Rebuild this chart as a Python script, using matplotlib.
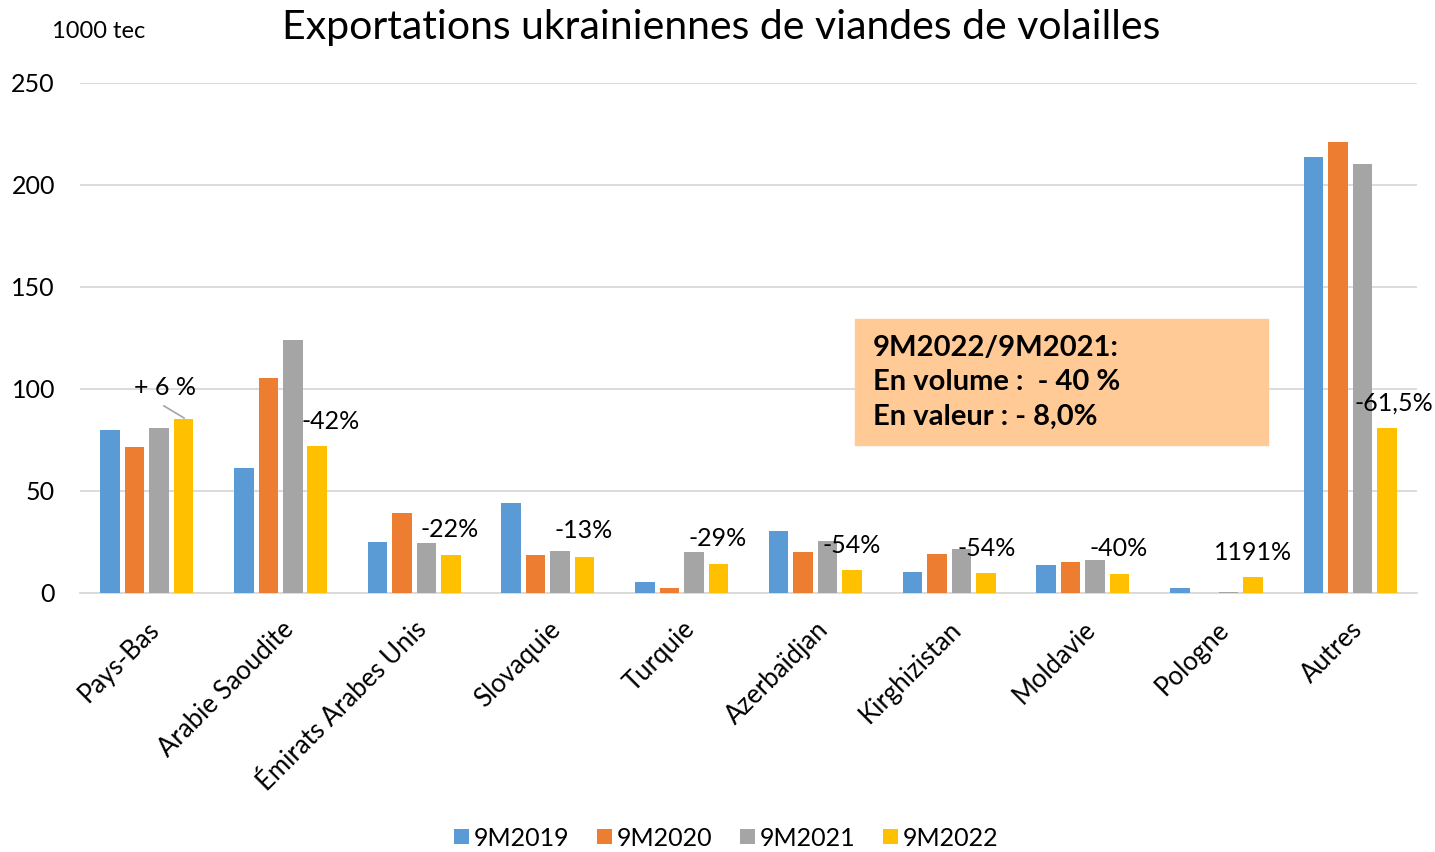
import numpy as np
import matplotlib.pyplot as plt

plt.rcParams['font.family'] = ['Lato', 'DejaVu Sans']

pays = ["Pays-Bas", "Arabie Saoudite", "Émirats Arabes Unis", "Slovaquie", "Turquie",
        "Azerbaïdjan", "Kirghizistan", "Moldavie", "Pologne", "Autres"]
series = ["9M2019", "9M2020", "9M2021", "9M2022"]
v2019 = [80.0, 61.3, 25.0, 44.0, 5.4, 30.4, 10.3, 13.7, 2.5, 213.7]
v2020 = [71.6, 105.4, 39.0, 18.6, 2.5, 20.0, 19.1, 15.2, 0.0, 221.0]
v2021 = [81.0, 124.0, 24.5, 20.6, 20.0, 25.5, 21.6, 16.2, 0.6, 210.3]
v2022 = [85.3, 72.0, 18.6, 17.6, 14.2, 11.3, 9.8, 9.3, 7.8, 81.0]
evol = ["+ 6 %", "-42%", "-22%", "-13%", "-29%", "-54%", "-54%", "-40%", "1191%", "-61,5%"]
couleurs = ["#5B9BD5", "#ED7D31", "#A5A5A5", "#FFC000"]

fig = plt.figure(figsize=(14.35, 8.52), dpi=100)
ax = fig.add_axes([80 / 1435, 1 - 593 / 852, 1337 / 1435, 510 / 852])

x = np.arange(len(pays))
pas = 0.183
larg = 0.146
for k, (vals, nom) in enumerate(zip([v2019, v2020, v2021, v2022], series)):
    ax.bar(x + (k - 1.5) * pas, vals, width=larg, color=couleurs[k], label=nom, zorder=3)

ax.set_xlim(-0.5, len(pays) - 0.5)
ax.set_ylim(0, 250)
ax.set_yticks([0, 50, 100, 150, 200, 250])
ax.grid(axis='y', color='#D9D9D9', linewidth=1.3, zorder=0)
for s in ['top', 'right', 'left']:
    ax.spines[s].set_visible(False)
ax.spines['bottom'].set_color('#D9D9D9')
ax.spines['bottom'].set_linewidth(1.3)
ax.tick_params(axis='y', length=0, pad=18, labelsize=18)
ax.tick_params(axis='x', length=0, pad=17)
ax.set_xticks(x)
ax.set_xticklabels(pays, rotation=45, ha='right', rotation_mode='anchor', fontsize=18.5)

# étiquettes d'évolution 9M2022/9M2021
pos_lab = [(0.136, 100.5), (1.377, 84.3), (2.267, 30.9), (3.27, 30.4), (4.27, 26.5),
           (5.27, 23.5), (6.28, 22.0), (7.27, 22.0), (8.27, 20.0), (9.33, 93.0)]
for (lx, ly), t in zip(pos_lab, evol):
    ax.text(lx, ly, t, ha='center', va='center', fontsize=18, zorder=5)
ax.plot([0.128, 0.278], [91.7, 85.8], color='#A5A5A5', linewidth=1.2, zorder=4)

# encadré
fig.patches.append(plt.Rectangle((855 / 1435, 1 - 445 / 852), 413 / 1435, 126 / 852,
                                 transform=fig.transFigure, color='#FFCA96', zorder=1))
boite = "9M2022/9M2021:\nEn volume :  - 40 %\nEn valeur : - 8,0%"
fig.text(873 / 1435, 1 - 382 / 852, boite, fontsize=21, fontweight='bold',
         ha='left', va='center', linespacing=1.4, zorder=6)

fig.text(721 / 1435, 1 - 27 / 852, "Exportations ukrainiennes de viandes de volailles",
         ha='center', va='center', fontsize=29.5)
fig.text(52 / 1435, 1 - 32 / 852, "1000 tec", ha='left', va='center', fontsize=17)

fig.legend(loc='center', bbox_to_anchor=(726 / 1435, 1 - 838 / 852), ncol=4, frameon=False,
           fontsize=18, handlelength=0.6, handleheight=0.55, handletextpad=0.2,
           columnspacing=1.1)

fig.savefig("out.png", dpi=100)
